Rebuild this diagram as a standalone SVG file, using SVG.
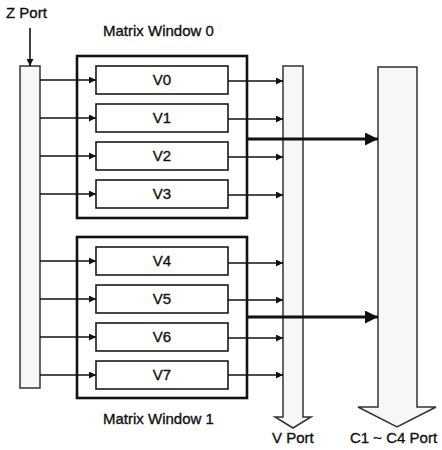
<svg xmlns="http://www.w3.org/2000/svg" width="442" height="450" viewBox="0 0 442 450">
<defs>
<style>
text{font-family:"Liberation Sans",Arial,sans-serif;fill:#111;stroke:#111;stroke-width:0.35;}
.lbl{font-size:15px;}
.v{font-size:15px;text-anchor:middle;}
.win{fill:none;stroke:#111;stroke-width:2.6;}
.vb{fill:#fff;stroke:#1a1a1a;stroke-width:1.6;}
.bar{fill:#f7f7f7;stroke:#333;stroke-width:1.5;}
.ln{stroke:#111;stroke-width:1.6;fill:none;}
.big{stroke:#111;stroke-width:2.8;fill:none;}
</style>
<marker id="a" viewBox="0 0 10 10" refX="10" refY="5" markerWidth="8" markerHeight="7" markerUnits="userSpaceOnUse" orient="auto"><path d="M0,0 L10,5 L0,10 Z" fill="#111"/></marker>
<marker id="b" viewBox="0 0 10 10" refX="10" refY="5" markerWidth="18" markerHeight="13" markerUnits="userSpaceOnUse" orient="auto"><path d="M0,0 L10,5 L0,10 Z" fill="#111"/></marker>
</defs>
<rect width="442" height="450" fill="#fff"/>

<g id="zport">
<text class="lbl" x="6" y="18">Z Port</text>
<rect class="bar" x="20" y="66" width="20" height="322"/>
</g>

<g id="window0">
<text class="lbl" x="103" y="36">Matrix Window 0</text>
<rect class="win" x="77" y="56" width="170" height="162"/>
</g>
<g id="window1">
<text class="lbl" x="103" y="424">Matrix Window 1</text>
<rect class="win" x="77" y="237" width="170" height="161"/>
</g>

<g id="v0"><rect class="vb" x="96" y="66" width="132" height="28"/><text class="v" x="162" y="85">V0</text></g>
<g id="v1"><rect class="vb" x="96" y="104" width="132" height="28"/><text class="v" x="162" y="123">V1</text></g>
<g id="v2"><rect class="vb" x="96" y="142" width="132" height="28"/><text class="v" x="162" y="161">V2</text></g>
<g id="v3"><rect class="vb" x="96" y="180" width="132" height="28"/><text class="v" x="162" y="199">V3</text></g>
<g id="v4"><rect class="vb" x="96" y="247" width="132" height="28"/><text class="v" x="162" y="266">V4</text></g>
<g id="v5"><rect class="vb" x="96" y="285" width="132" height="28"/><text class="v" x="162" y="304">V5</text></g>
<g id="v6"><rect class="vb" x="96" y="323" width="132" height="28"/><text class="v" x="162" y="342">V6</text></g>
<g id="v7"><rect class="vb" x="96" y="361" width="132" height="28"/><text class="v" x="162" y="380">V7</text></g>

<g id="vport">
<path class="bar" d="M283,66 H303 V417 H311 L293,428 L275,417 H283 Z"/>
<text class="lbl" x="272" y="443">V Port</text>
</g>
<g id="cport">
<path class="bar" d="M378,67 H417 V407 H436 L397,427 L358,407 H378 Z"/>
<text class="lbl" x="350" y="443">C1 ~ C4 Port</text>
</g>

<g id="connectors">
<line class="ln" x1="30" y1="28" x2="30" y2="66" marker-end="url(#a)"/>
<line class="ln" x1="40" y1="80" x2="96" y2="80" marker-end="url(#a)"/>
<line class="ln" x1="40" y1="118" x2="96" y2="118" marker-end="url(#a)"/>
<line class="ln" x1="40" y1="156" x2="96" y2="156" marker-end="url(#a)"/>
<line class="ln" x1="40" y1="194" x2="96" y2="194" marker-end="url(#a)"/>
<line class="ln" x1="40" y1="261" x2="96" y2="261" marker-end="url(#a)"/>
<line class="ln" x1="40" y1="299" x2="96" y2="299" marker-end="url(#a)"/>
<line class="ln" x1="40" y1="337" x2="96" y2="337" marker-end="url(#a)"/>
<line class="ln" x1="40" y1="375" x2="96" y2="375" marker-end="url(#a)"/>
<line class="ln" x1="228" y1="81" x2="283" y2="81" marker-end="url(#a)"/>
<line class="ln" x1="228" y1="119" x2="283" y2="119" marker-end="url(#a)"/>
<line class="ln" x1="228" y1="157" x2="283" y2="157" marker-end="url(#a)"/>
<line class="ln" x1="228" y1="195" x2="283" y2="195" marker-end="url(#a)"/>
<line class="ln" x1="228" y1="263" x2="283" y2="263" marker-end="url(#a)"/>
<line class="ln" x1="228" y1="300" x2="283" y2="300" marker-end="url(#a)"/>
<line class="ln" x1="228" y1="338" x2="283" y2="338" marker-end="url(#a)"/>
<line class="ln" x1="228" y1="375" x2="283" y2="375" marker-end="url(#a)"/>
<line class="big" x1="247" y1="139" x2="378" y2="139" marker-end="url(#b)"/>
<line class="big" x1="247" y1="317" x2="378" y2="317" marker-end="url(#b)"/>
</g>
</svg>
